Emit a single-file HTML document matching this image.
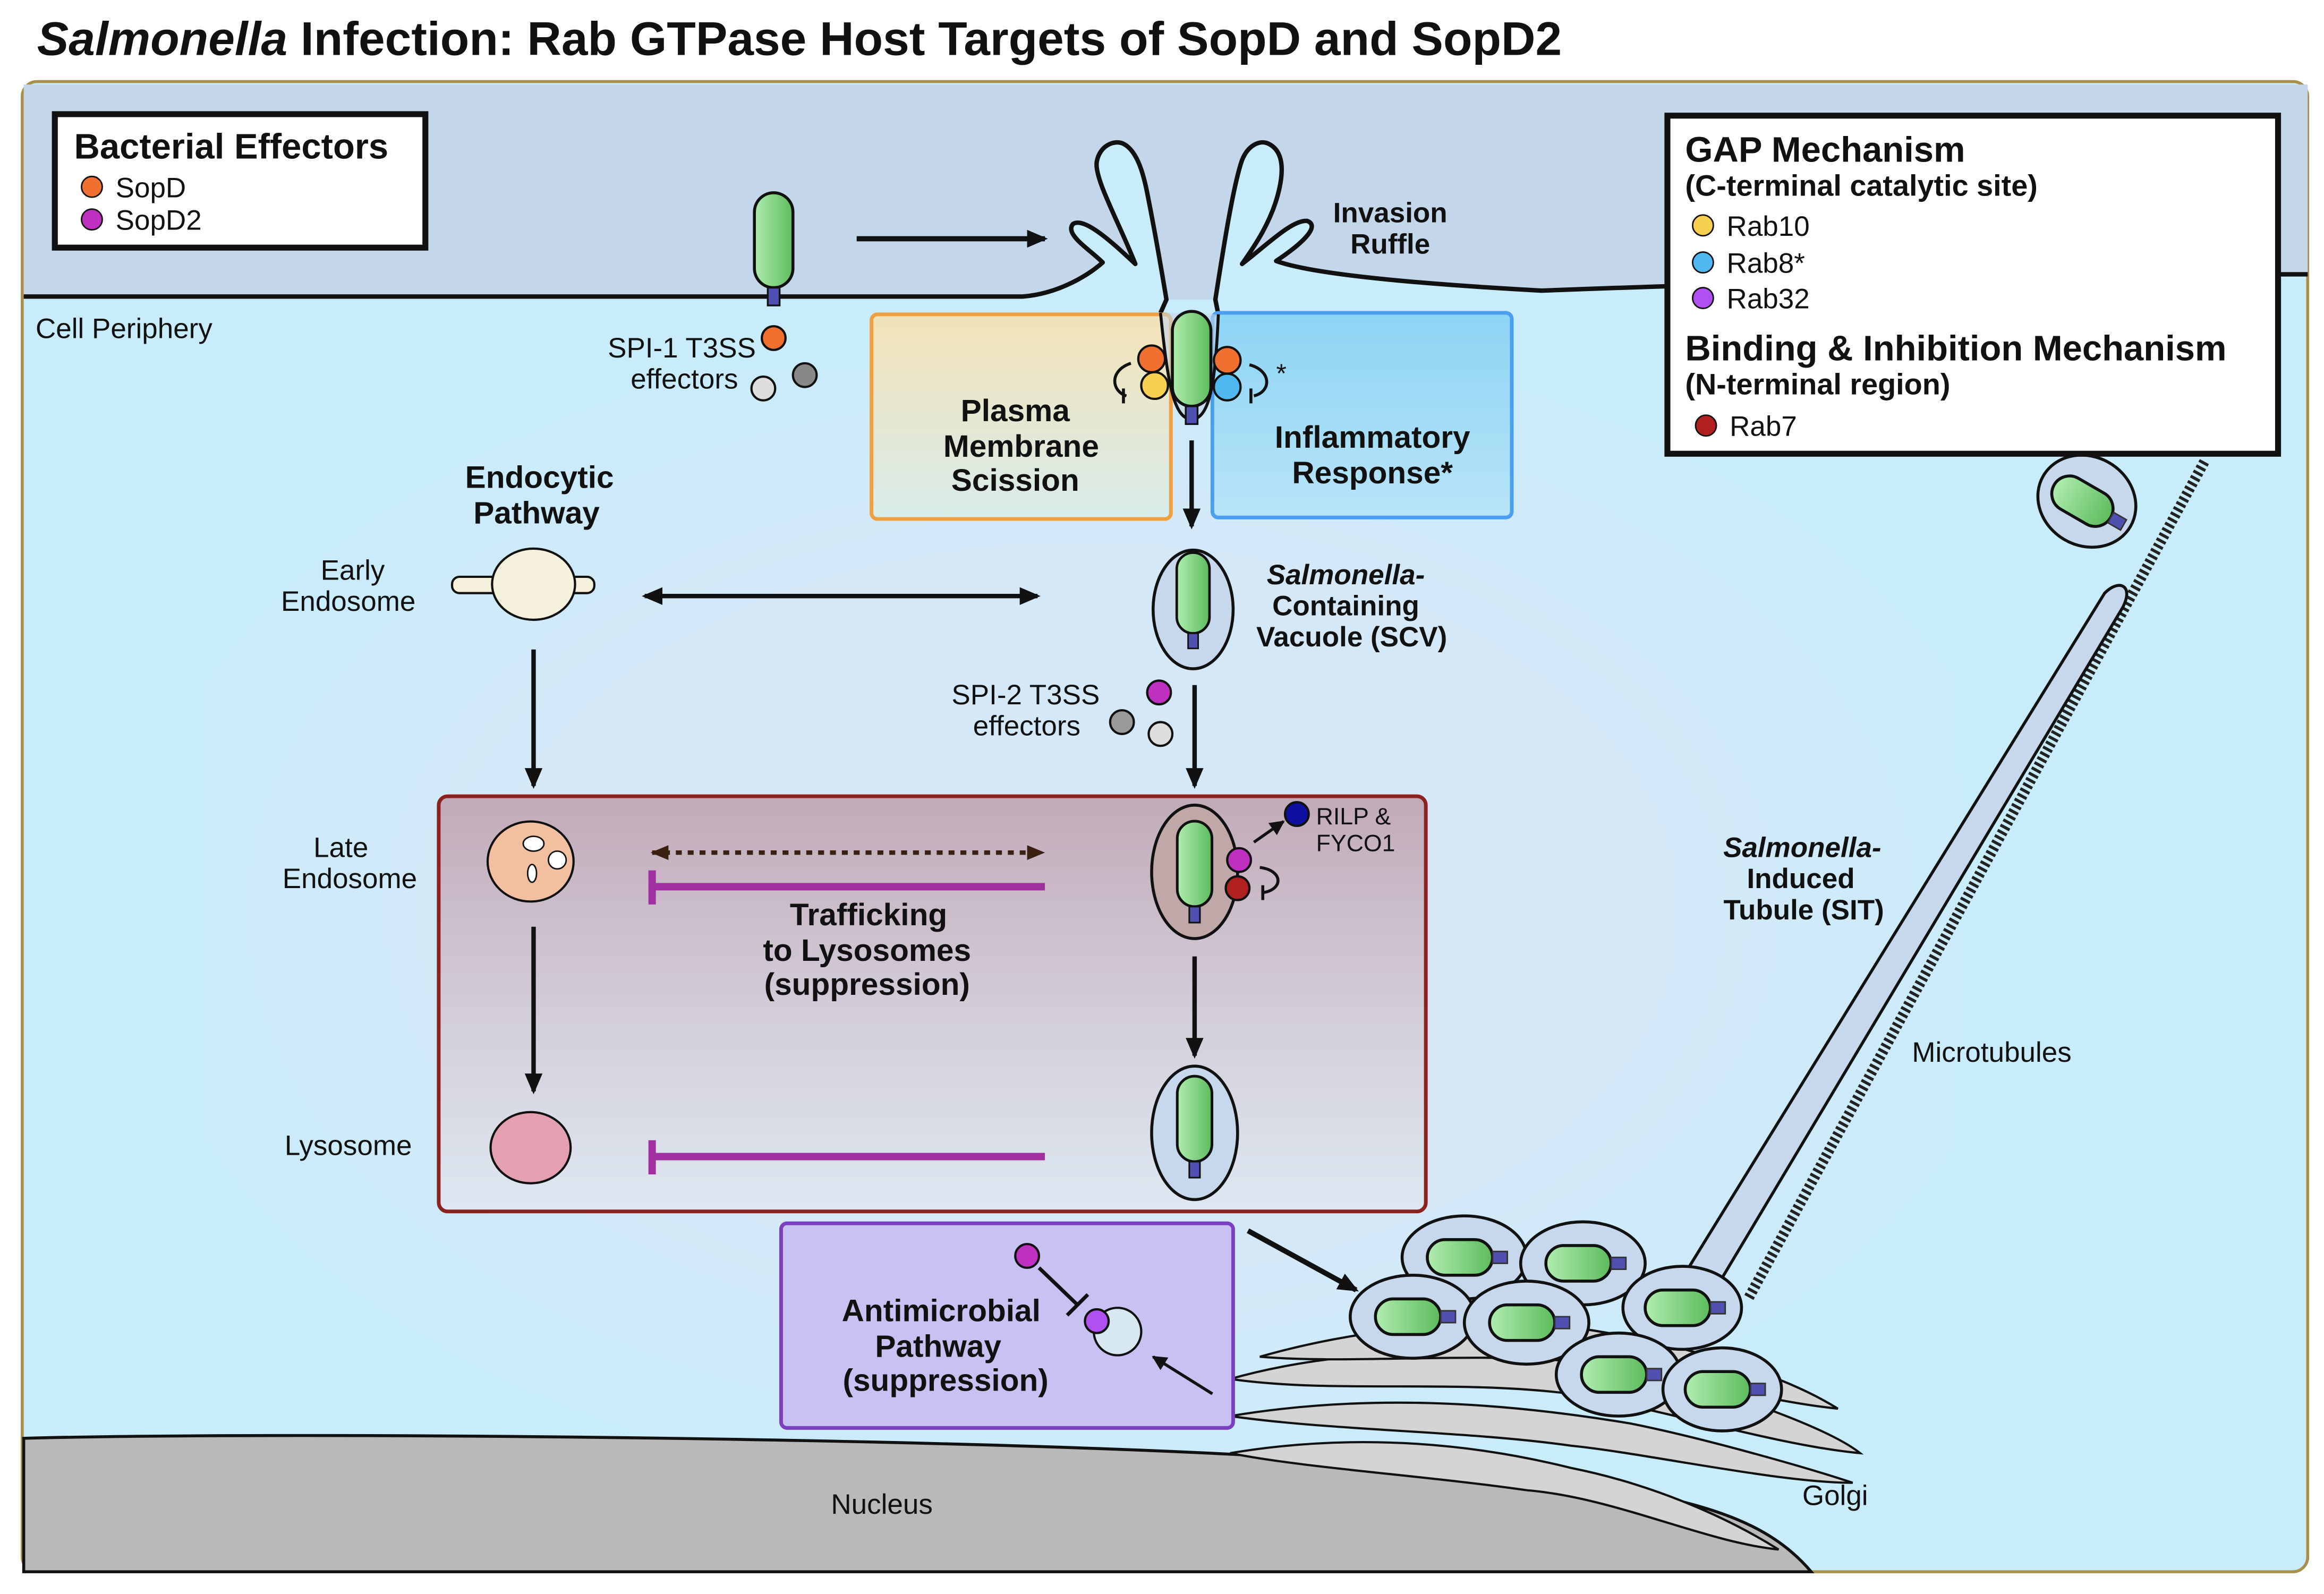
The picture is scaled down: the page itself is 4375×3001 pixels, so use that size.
<!DOCTYPE html>
<html><head><meta charset="utf-8"><style>
html,body{margin:0;padding:0;background:#fff}
svg{display:block}
text{font-family:"Liberation Sans",Arial,sans-serif;fill:#111}
.b{font-weight:bold}
</style></head><body>
<svg width="4375" height="3001" viewBox="0 0 1568 1075" preserveAspectRatio="none" xmlns="http://www.w3.org/2000/svg">
<defs>
<linearGradient id="bug" x1="0" x2="1"><stop offset="0" stop-color="#b0ecb0"/><stop offset="1" stop-color="#5cbc5c"/></linearGradient>
<linearGradient id="pms" x1="0" y1="0" x2="0" y2="1"><stop offset="0" stop-color="#f3e2b8"/><stop offset="1" stop-color="#d8ecea"/></linearGradient>
<linearGradient id="inf" x1="0" y1="0" x2="0" y2="1"><stop offset="0" stop-color="#8dd4f4"/><stop offset="1" stop-color="#b8e4f8"/></linearGradient>
<linearGradient id="lys" x1="0" y1="0" x2="0" y2="1"><stop offset="0" stop-color="#c2aab8"/><stop offset="0.5" stop-color="#d2ccd8"/><stop offset="1" stop-color="#dee8f2"/></linearGradient>
<radialGradient id="cen" cx="0.5" cy="0.5" r="0.55"><stop offset="0.6" stop-color="#d4e8f8"/><stop offset="1" stop-color="#c9ecfa"/></radialGradient>
<marker id="ah" markerWidth="14" markerHeight="14" refX="12" refY="7" orient="auto-start-reverse" markerUnits="userSpaceOnUse"><path d="M0,1 L14,7 L0,13 z" fill="#111"/></marker>
<marker id="ahm" markerWidth="10" markerHeight="10" refX="9" refY="5" orient="auto-start-reverse" markerUnits="userSpaceOnUse"><path d="M0,0 L10,5 L0,10 z" fill="#111"/></marker>
<marker id="ahb" markerWidth="12" markerHeight="12" refX="11" refY="6" orient="auto-start-reverse" markerUnits="userSpaceOnUse"><path d="M0,1 L12,6 L0,11 z" fill="#3a2010"/></marker>
<g id="bact"><rect x="-13" y="-38" width="26" height="64" rx="13" fill="url(#bug)" stroke="#111" stroke-width="2"/><rect x="-4" y="26" width="8" height="12" fill="#5050b0" stroke="#111" stroke-width="1.2"/></g>
<g id="hb"><rect x="-22" y="-12" width="44" height="24" rx="12" fill="url(#bug)" stroke="#111" stroke-width="2"/><rect x="22" y="-4" width="10" height="8" fill="#5050b0" stroke="#333" stroke-width="1"/></g>
</defs>
<rect width="1568" height="1075" fill="#fff"/>
<text x="25" y="37" class="b" font-size="32"><tspan font-style="italic">Salmonella</tspan> Infection: Rab GTPase Host Targets of SopD and SopD2</text>
<rect x="15" y="55" width="1542" height="1005" rx="10" fill="#c9ecfa" stroke="#a8904c" stroke-width="2"/>
<rect x="140" y="250" width="1180" height="730" fill="url(#cen)"/>
<!-- extracellular -->
<path d="M16,200 L690,200 C715,198 735,185 744,177 C735,168 718,158 724,151 C732,146 752,165 766,178 C755,150 738,120 740,109 C742,98 752,94 758,97 C768,102 772,120 774,130 C780,160 785,190 787,202 L820,202 C825,170 832,125 838,108 C842,98 850,94 856,97 C866,102 866,115 863,128 C858,150 845,168 838,178 C855,165 872,148 882,149 C890,152 882,162 861,176 C880,183 930,190 1040,196 C1200,190 1400,185 1557,185 L1557,57 L16,57 Z" fill="#c4d6ea"/>
<path d="M16,200 L690,200 C715,198 735,185 744,177 C735,168 718,158 724,151 C732,146 752,165 766,178 C755,150 738,120 740,109 C742,98 752,94 758,97 C768,102 772,120 774,130 C780,160 785,190 787,202 L783,211" fill="none" stroke="#111" stroke-width="3" stroke-linejoin="round"/>
<path d="M822,212 L820,202 C825,170 832,125 838,108 C842,98 850,94 856,97 C866,102 866,115 863,128 C858,150 845,168 838,178 C855,165 872,148 882,149 C890,152 882,162 861,176 C880,183 930,190 1040,196 C1200,190 1400,185 1557,185" fill="none" stroke="#111" stroke-width="3" stroke-linejoin="round"/>
<!-- nucleus -->
<path d="M16,970 C200,965 700,970 900,985 C1100,1000 1180,1010 1222,1060 L16,1060 Z" fill="#b9b9b9" stroke="#111" stroke-width="2"/>
<!-- golgi -->
<g fill="#d4d4d4" stroke="#111" stroke-width="1.5">
<path d="M830,930 C900,910 1000,905 1100,920 C1150,935 1230,960 1255,980 C1200,975 1120,950 1060,940 C980,930 900,940 830,930Z"/>
<path d="M830,955 C920,940 1010,945 1100,960 C1150,970 1220,990 1250,1000 C1200,1000 1110,980 1060,975 C990,965 900,965 830,955Z"/>
<path d="M830,980 C920,965 1000,975 1060,990 C1110,1000 1160,1020 1200,1045 C1150,1040 1090,1010 1030,1005 C960,995 880,990 830,980Z"/>
<path d="M850,915 C920,895 990,890 1060,895 C1130,905 1200,925 1240,950 C1190,945 1120,925 1060,918 C990,912 910,920 850,915Z"/>
</g>
<!-- microtubules / SIT -->
<line x1="1180" y1="875" x2="1488" y2="310" stroke="#222" stroke-width="7" stroke-dasharray="2,2"/>
<path d="M1130,870 L1420,400 C1430,390 1440,395 1432,410 L1160,865 Z" fill="#c8d8ec" stroke="#111" stroke-width="2"/>
<ellipse cx="1408" cy="338" rx="34" ry="30" transform="rotate(30 1408 338)" fill="#c8d8ec" stroke="#111" stroke-width="2"/>
<use href="#hb" transform="translate(1405,338) rotate(30)"/>
<!-- SCV cluster -->
<g fill="#c8d8ec" stroke="#111" stroke-width="2">
<ellipse cx="988" cy="848" rx="42" ry="28"/><ellipse cx="1068" cy="852" rx="42" ry="28"/><ellipse cx="953" cy="888" rx="42" ry="28"/><ellipse cx="1030" cy="892" rx="42" ry="28"/><ellipse cx="1135" cy="882" rx="40" ry="28"/><ellipse cx="1092" cy="927" rx="42" ry="28"/><ellipse cx="1162" cy="937" rx="40" ry="28"/>
</g>
<use href="#hb" transform="translate(985,848)"/><use href="#hb" transform="translate(1065,852)"/><use href="#hb" transform="translate(950,888)"/><use href="#hb" transform="translate(1027,892)"/><use href="#hb" transform="translate(1132,882)"/><use href="#hb" transform="translate(1089,927)"/><use href="#hb" transform="translate(1159,937)"/>
<!-- boxes -->
<rect x="588" y="212" width="202" height="138" rx="4" fill="url(#pms)" stroke="#f0a040" stroke-width="2.5"/>
<rect x="818" y="211" width="202" height="138" rx="4" fill="url(#inf)" stroke="#4a9ff0" stroke-width="2.5"/>
<rect x="296" y="537" width="666" height="280" rx="6" fill="url(#lys)" stroke="#8b2222" stroke-width="2.5"/>
<rect x="527" y="825" width="305" height="138" rx="4" fill="#c8c2f2" stroke="#7a40c0" stroke-width="2.5"/>
<!-- legends -->
<rect x="37" y="77" width="250" height="90" fill="#fff" stroke="#111" stroke-width="4"/>
<text x="50" y="107" class="b" font-size="24">Bacterial Effectors</text>
<circle cx="62" cy="126" r="7" fill="#f07030" stroke="#111"/><text x="78" y="133" font-size="19">SopD</text>
<circle cx="62" cy="148" r="7" fill="#c030c0" stroke="#111"/><text x="78" y="155" font-size="19">SopD2</text>
<rect x="1125" y="78" width="412" height="228" fill="#fff" stroke="#111" stroke-width="4"/>
<text x="1137" y="109" class="b" font-size="24">GAP Mechanism</text>
<text x="1137" y="132" class="b" font-size="20">(C-terminal catalytic site)</text>
<circle cx="1149" cy="152" r="7" fill="#f8d050" stroke="#111"/><text x="1165" y="159" font-size="19">Rab10</text>
<circle cx="1149" cy="177" r="7" fill="#50b8f0" stroke="#111"/><text x="1165" y="184" font-size="19">Rab8*</text>
<circle cx="1149" cy="201" r="7" fill="#b050f0" stroke="#111"/><text x="1165" y="208" font-size="19">Rab32</text>
<text x="1137" y="243" class="b" font-size="24">Binding &amp; Inhibition Mechanism</text>
<text x="1137" y="266" class="b" font-size="20">(N-terminal region)</text>
<circle cx="1151" cy="287" r="7" fill="#b02020" stroke="#111"/><text x="1167" y="294" font-size="19">Rab7</text>
<!-- top bacteria -->
<use href="#bact" transform="translate(522,168)"/>
<line x1="578" y1="161" x2="705" y2="161" stroke="#111" stroke-width="3.5" marker-end="url(#ah)"/>
<text x="938" y="150" class="b" font-size="19" text-anchor="middle">Invasion</text>
<text x="938" y="171" class="b" font-size="19" text-anchor="middle">Ruffle</text>
<text x="24" y="228" font-size="19">Cell Periphery</text>
<text x="510" y="241" font-size="19" text-anchor="end">SPI-1 T3SS</text>
<text x="498" y="262" font-size="19" text-anchor="end">effectors</text>
<circle cx="522" cy="228" r="8" fill="#f07030" stroke="#111" stroke-width="1.5"/>
<circle cx="543" cy="253" r="8" fill="#888" stroke="#111" stroke-width="1.5"/>
<circle cx="515" cy="262" r="8" fill="#ddd" stroke="#111" stroke-width="1.5"/>
<!-- entering bacterium -->
<path d="M783,211 C788,260 792,282 804,283 C816,282 820,260 822,212" fill="#c4d6ea" fill-opacity="0.6" stroke="#111" stroke-width="2"/>
<use href="#bact" transform="translate(804,248)"/>
<circle cx="777" cy="242" r="9" fill="#f07030" stroke="#111" stroke-width="1.5"/><circle cx="779" cy="260" r="9" fill="#f8d050" stroke="#111" stroke-width="1.5"/>
<circle cx="828" cy="243" r="9" fill="#f07030" stroke="#111" stroke-width="1.5"/><circle cx="828" cy="261" r="9" fill="#50b8f0" stroke="#111" stroke-width="1.5"/>
<path d="M763,245 C748,250 750,264 760,267 M758,262 L758,272" fill="none" stroke="#111" stroke-width="2"/>
<path d="M843,246 C858,250 858,264 846,267 M844,262 L844,272" fill="none" stroke="#111" stroke-width="2"/>
<text x="861" y="258" font-size="18">*</text>
<text x="685" y="284" class="b" font-size="21" text-anchor="middle">Plasma</text>
<text x="689" y="308" class="b" font-size="21" text-anchor="middle">Membrane</text>
<text x="685" y="331" class="b" font-size="21" text-anchor="middle">Scission</text>
<text x="926" y="302" class="b" font-size="21" text-anchor="middle">Inflammatory</text>
<text x="926" y="326" class="b" font-size="21" text-anchor="middle">Response*</text>
<line x1="804" y1="297" x2="804" y2="355" stroke="#111" stroke-width="3" marker-end="url(#ah)"/>
<!-- SCV -->
<ellipse cx="805" cy="411" rx="27" ry="40" fill="#c8d8ec" stroke="#111" stroke-width="2"/>
<use href="#bact" transform="translate(805,405) scale(0.85)"/>
<text x="908" y="394" class="b" font-size="19" font-style="italic" text-anchor="middle">Salmonella-</text>
<text x="908" y="415" class="b" font-size="19" text-anchor="middle">Containing</text>
<text x="912" y="436" class="b" font-size="19" text-anchor="middle">Vacuole (SCV)</text>
<text x="742" y="475" font-size="19" text-anchor="end">SPI-2 T3SS</text>
<text x="729" y="496" font-size="19" text-anchor="end">effectors</text>
<circle cx="782" cy="467" r="8" fill="#c030c0" stroke="#111" stroke-width="1.5"/>
<circle cx="757" cy="487" r="8" fill="#999" stroke="#111" stroke-width="1.5"/>
<circle cx="783" cy="495" r="8" fill="#ddd" stroke="#111" stroke-width="1.5"/>
<line x1="806" y1="462" x2="806" y2="530" stroke="#111" stroke-width="3" marker-end="url(#ah)"/>
<!-- endocytic -->
<text x="364" y="329" class="b" font-size="21" text-anchor="middle">Endocytic</text>
<text x="362" y="353" class="b" font-size="21" text-anchor="middle">Pathway</text>
<text x="238" y="391" font-size="19" text-anchor="middle">Early</text>
<text x="235" y="412" font-size="19" text-anchor="middle">Endosome</text>
<rect x="305" y="389" width="96" height="11" rx="5" fill="#f6f1dc" stroke="#111" stroke-width="1.5"/>
<ellipse cx="360" cy="394" rx="28" ry="24" fill="#f6f1dc" stroke="#111" stroke-width="1.5"/>
<line x1="435" y1="402" x2="700" y2="402" stroke="#111" stroke-width="3" marker-start="url(#ah)" marker-end="url(#ah)"/>
<line x1="360" y1="438" x2="360" y2="530" stroke="#111" stroke-width="3" marker-end="url(#ah)"/>
<text x="230" y="578" font-size="19" text-anchor="middle">Late</text>
<text x="236" y="599" font-size="19" text-anchor="middle">Endosome</text>
<ellipse cx="358" cy="581" rx="29" ry="27" fill="#f2c0a0" stroke="#111" stroke-width="1.5"/>
<ellipse cx="360" cy="569" rx="7" ry="5" fill="#fff" stroke="#111"/><ellipse cx="376" cy="580" rx="6" ry="6" fill="#fff" stroke="#111"/><ellipse cx="359" cy="589" rx="3" ry="6" fill="#fff" stroke="#111"/>
<line x1="360" y1="625" x2="360" y2="736" stroke="#111" stroke-width="3" marker-end="url(#ah)"/>
<text x="235" y="779" font-size="19" text-anchor="middle">Lysosome</text>
<ellipse cx="358" cy="774" rx="27" ry="24" fill="#e2a0b0" stroke="#111" stroke-width="1.5"/>
<line x1="440" y1="575" x2="704" y2="575" stroke="#3a2010" stroke-width="3" stroke-dasharray="4,4" marker-start="url(#ahb)" marker-end="url(#ahb)"/>
<line x1="440" y1="598" x2="705" y2="598" stroke="#a030a0" stroke-width="5"/><line x1="440" y1="587" x2="440" y2="610" stroke="#a030a0" stroke-width="5"/>
<line x1="440" y1="780" x2="705" y2="780" stroke="#a030a0" stroke-width="5"/><line x1="440" y1="769" x2="440" y2="792" stroke="#a030a0" stroke-width="5"/>
<text x="586" y="624" class="b" font-size="21" text-anchor="middle">Trafficking</text>
<text x="585" y="648" class="b" font-size="21" text-anchor="middle">to Lysosomes</text>
<text x="585" y="671" class="b" font-size="21" text-anchor="middle">(suppression)</text>
<ellipse cx="806" cy="588" rx="29" ry="45" fill="#c0a8a8" stroke="#111" stroke-width="2"/>
<use href="#bact" transform="translate(806,588) scale(0.9)"/>
<circle cx="836" cy="580" r="8" fill="#c030c0" stroke="#111" stroke-width="1.5"/><circle cx="835" cy="599" r="8" fill="#b02020" stroke="#111" stroke-width="1.5"/>
<line x1="846" y1="568" x2="866" y2="554" stroke="#111" stroke-width="2" marker-end="url(#ahm)"/>
<circle cx="875" cy="549" r="8" fill="#1010a0" stroke="#111" stroke-width="1.5"/>
<path d="M850,585 C866,587 866,600 852,602 M852,597 L852,607" fill="none" stroke="#111" stroke-width="2"/>
<text x="888" y="556" font-size="16">RILP &amp;</text><text x="888" y="574" font-size="16">FYCO1</text>
<line x1="806" y1="645" x2="806" y2="712" stroke="#111" stroke-width="3" marker-end="url(#ah)"/>
<ellipse cx="806" cy="764" rx="29" ry="45" fill="#c8d8ec" stroke="#111" stroke-width="2"/>
<use href="#bact" transform="translate(806,760) scale(0.9)"/>
<!-- antimicrobial -->
<line x1="842" y1="830" x2="915" y2="870" stroke="#111" stroke-width="3.5" marker-end="url(#ah)"/>
<text x="635" y="891" class="b" font-size="21" text-anchor="middle">Antimicrobial</text>
<text x="633" y="915" class="b" font-size="21" text-anchor="middle">Pathway</text>
<text x="638" y="938" class="b" font-size="21" text-anchor="middle">(suppression)</text>
<circle cx="693" cy="847" r="8" fill="#c030c0" stroke="#111" stroke-width="1.5"/>
<line x1="701" y1="855" x2="727" y2="880" stroke="#111" stroke-width="2.5"/><line x1="720" y1="887" x2="734" y2="873" stroke="#111" stroke-width="2.5"/>
<circle cx="754" cy="898" r="16" fill="#d8e8f0" stroke="#111" stroke-width="1.5"/>
<circle cx="740" cy="891" r="8" fill="#b050f0" stroke="#111" stroke-width="1.5"/>
<line x1="818" y1="940" x2="778" y2="915" stroke="#111" stroke-width="2" marker-end="url(#ahm)"/>
<!-- labels -->
<text x="1216" y="578" class="b" font-size="19" font-style="italic" text-anchor="middle">Salmonella-</text>
<text x="1215" y="599" class="b" font-size="19" text-anchor="middle">Induced</text>
<text x="1217" y="620" class="b" font-size="19" text-anchor="middle">Tubule (SIT)</text>
<text x="1290" y="716" font-size="19">Microtubules</text>
<text x="1216" y="1015" font-size="19">Golgi</text>
<text x="595" y="1021" font-size="19" text-anchor="middle">Nucleus</text>
</svg>
</body></html>
